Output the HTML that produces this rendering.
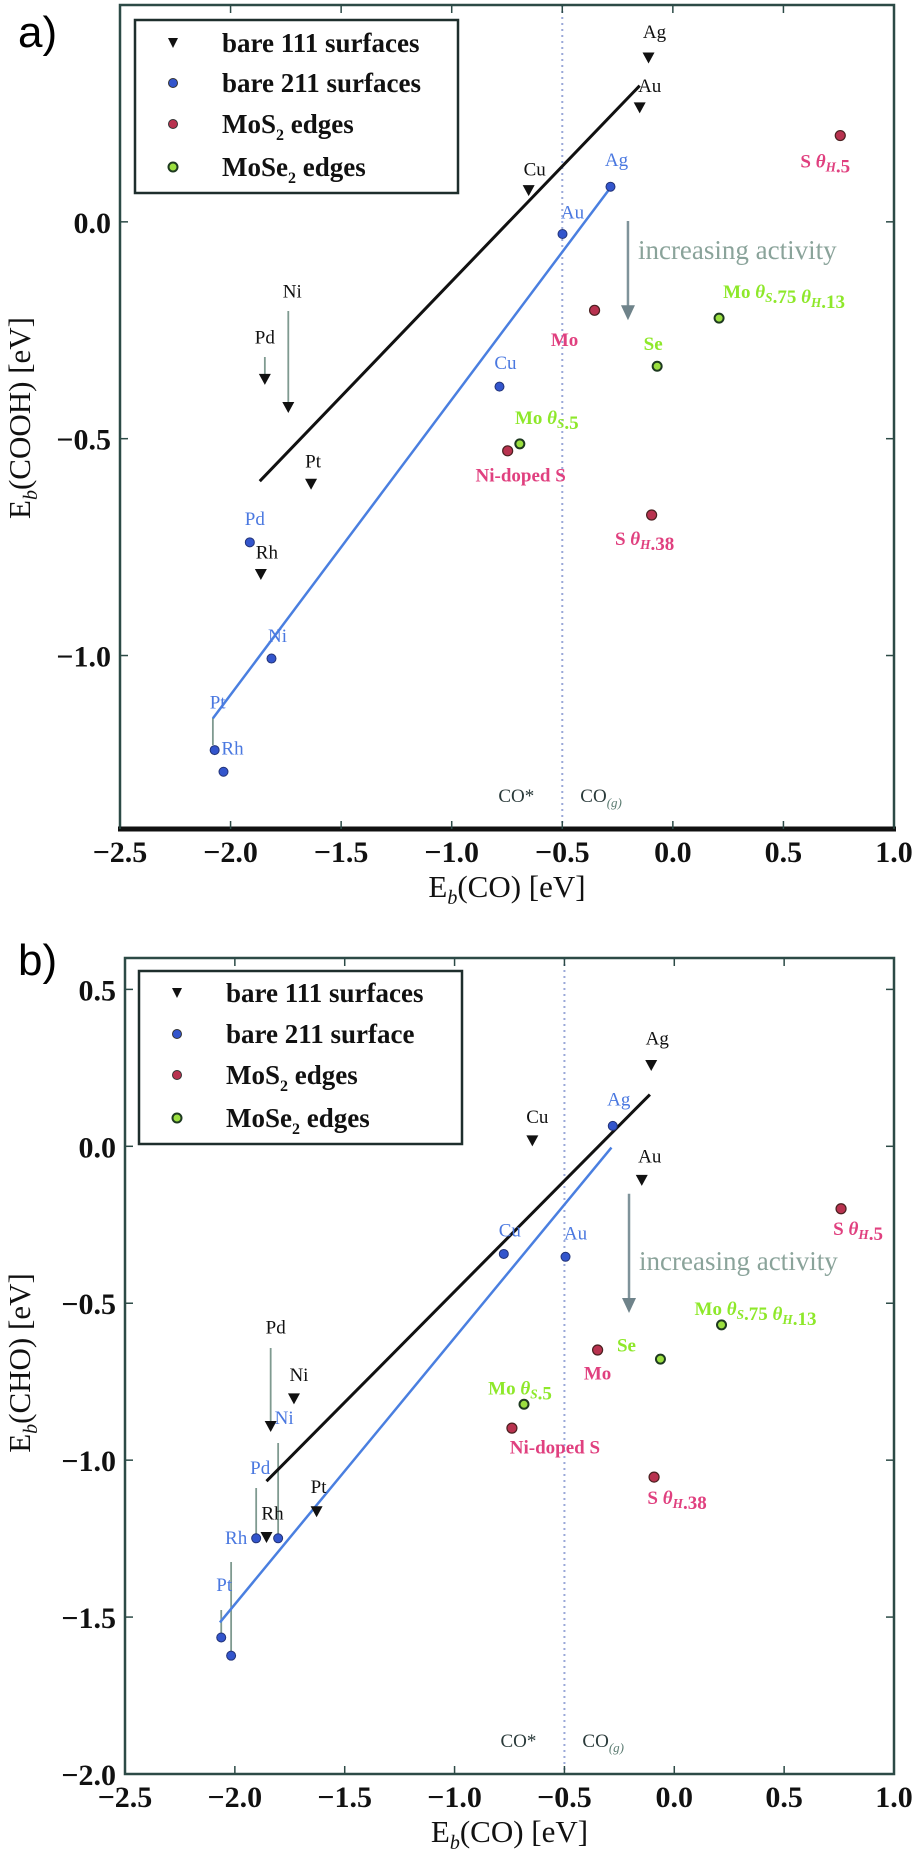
<!DOCTYPE html>
<html><head><meta charset="utf-8">
<style>
html,body{margin:0;padding:0;background:#fff;}
svg{display:block;}
text{font-family:"Liberation Serif",serif;}
</style></head>
<body>
<svg id="fig" width="916" height="1850" viewBox="0 0 916 1850" xmlns="http://www.w3.org/2000/svg">
<text x="18" y="47" font-size="44" style="font-family:'Liberation Sans',sans-serif">a)</text>
<text x="18" y="975" font-size="44" style="font-family:'Liberation Sans',sans-serif">b)</text>
<g id="pa"></g>
<g id="pb"></g>
</svg>
<script>
// ---- Panel a data (E_b(COOH) vs E_b(CO)) ----
const xTicks = [-2.5,-2.0,-1.5,-1.0,-0.5,0.0,0.5,1.0];
const xTickLabels = ["\u22122.5","\u22122.0","\u22121.5","\u22121.0","\u22120.5","0.0","0.5","1.0"];
const aYTicks = [0.0,-0.5,-1.0];
const aYTickLabels = ["0.0","\u22120.5","\u22121.0"];
const a111Names = ["Ag","Au","Cu","Ni","Pd","Pt","Rh"];
const a111X = [-0.110,-0.150,-0.652,-1.739,-1.845,-1.636,-1.863];
const a111Y = [0.379,0.264,0.073,-0.427,-0.362,-0.604,-0.812];
const a211Names = ["Ag","Au","Cu","Pd","Ni","Pt","Rh"];
const a211X = [-0.282,-0.499,-0.784,-1.913,-1.815,-2.072,-2.032];
const a211Y = [0.081,-0.028,-0.380,-0.739,-1.007,-1.218,-1.268];
const aMoS2Names = ["S \u03b8H.5","Mo","Ni-doped S","S \u03b8H.38"];
const aMoS2X = [0.757,-0.354,-0.747,-0.096];
const aMoS2Y = [0.199,-0.204,-0.528,-0.676];
const aMoSe2Names = ["Mo \u03b8S.75 \u03b8H.13","Se","Mo \u03b8S.5"];
const aMoSe2X = [0.209,-0.071,-0.692];
const aMoSe2Y = [-0.222,-0.333,-0.512];
const aFit111X = [-1.868,-0.150];
const aFit111Y = [-0.598,0.314];
const aFit211X = [-2.080,-0.282];
const aFit211Y = [-1.145,0.079];
const aActivityX = -0.203;
const aActivityY = [0.002,-0.227];

// ---- Panel b data (E_b(CHO) vs E_b(CO)) ----
const bYTicks = [0.5,0.0,-0.5,-1.0,-1.5,-2.0];
const bYTickLabels = ["0.5","0.0","\u22120.5","\u22121.0","\u22121.5","\u22122.0"];
const b111Names = ["Ag","Cu","Au","Ni","Pd","Pt","Rh"];
const b111X = [-0.105,-0.646,-0.148,-1.731,-1.837,-1.628,-1.856];
const b111Y = [0.259,0.019,-0.107,-0.803,-0.891,-1.163,-1.245];
const b211Names = ["Ag","Cu","Au","Ni","Pd","Pt","Rh"];
const b211X = [-0.280,-0.776,-0.495,-1.803,-1.903,-2.062,-2.017];
const b211Y = [0.065,-0.343,-0.352,-1.249,-1.249,-1.565,-1.623];
const bMoS2Names = ["S \u03b8H.5","Mo","Ni-doped S","S \u03b8H.38"];
const bMoS2X = [0.759,-0.349,-0.739,-0.092];
const bMoS2Y = [-0.199,-0.649,-0.898,-1.054];
const bMoSe2Names = ["Mo \u03b8S.75 \u03b8H.13","Se","Mo \u03b8S.5"];
const bMoSe2X = [0.215,-0.063,-0.684];
const bMoSe2Y = [-0.569,-0.678,-0.822];
const bFit111X = [-1.856,-0.111];
const bFit111Y = [-1.067,0.165];
const bFit211X = [-2.068,-0.286];
const bFit211Y = [-1.517,-0.004];
const bActivityX = -0.206;
const bActivityY = [-0.151,-0.531];

const NS="http://www.w3.org/2000/svg";
function mk(parent,tag,attrs){const e=document.createElementNS(NS,tag);for(const k in attrs)e.setAttribute(k,attrs[k]);parent.appendChild(e);return e;}

const offA = {
 t111:[[6,-25],[10,-21],[6,-20],[4,-115],[0,-41],[2,-22],[6,-21]],
 t211:[[6,-26],[10,-21],[6,-23],[5,-23],[6,-22],[3,-47],[9,-23]],
 mos2:[[-15,26],[-30,30],[13,25],[-7,24]],
 mose2:[[65,-26],[-4,-22],[27,-26]]
};
const offB = {
 t111:[[6,-26],[5,-23],[8,-23],[5,-23],[5,-98],[2,-24],[6,-23]],
 t211:[[6,-26],[6,-23],[10,-23],[6,-120],[4,-70],[3,-52],[5,-117]],
 mos2:[[17,20],[0,24],[43,20],[23,21]],
 mose2:[[34,-16],[-34,-13],[-4,-16]]
};

function addLabel(g,x,y,name,color,size){
  const t=mk(g,'text',{x:x,y:y,'text-anchor':'middle','dominant-baseline':'central',fill:color,'font-size':size});
  
  
  if(!/\u03b8[SH]/.test(name)){t.textContent=name;return t;}
  const parts=name.split(/(\u03b8[SH])/);
  parts.forEach(p=>{
    if(/^\u03b8[SH]$/.test(p)){
      const a=mk(t,'tspan',{'font-style':'italic'});a.textContent='\u03b8';
      const s=mk(t,'tspan',{'font-size':size*0.7,'font-style':'italic',dy:5});s.textContent=p[1];
      const r=mk(t,'tspan',{dy:-5});r.textContent='';
    } else if(p){const s=mk(t,'tspan',{});s.textContent=p;}
  });
  return t;
}

function drawPanel(g,P){
  const X=v=>P.x0+(v-P.xmin)/(P.xmax-P.xmin)*(P.x1-P.x0);
  const Y=v=>P.y0+(P.ymax-v)/(P.ymax-P.ymin)*(P.y1-P.y0);
  const dl=mk(g,'line',{x1:X(-0.5),x2:X(-0.5),y1:P.y0,y2:P.y1,stroke:'#9aa8d8','stroke-width':2,'stroke-dasharray':'2,4'});
  
  
  const c1=mk(g,'text',{x:X(-0.5)-46,y:P.y1-27,'text-anchor':'middle','font-size':19,fill:'#2a3a3a'});c1.textContent='CO*';
  
  
  const c2=mk(g,'text',{x:X(-0.5)+18,y:P.y1-27,'font-size':19,fill:'#2a3a3a'});
  
  
  c2.textContent='CO';const cs=mk(c2,'tspan',{'font-size':13,dy:5,'font-style':'italic',fill:'#5a7a70'});cs.textContent='(g)';
  P.helpers.forEach(h=>{
    const l=mk(g,'line',{x1:X(h[0]),x2:X(h[0]),y1:h[1],y2:h[2],stroke:'#7f9a90','stroke-width':1.8});
    
    
  });
  const f1=mk(g,'line',{x1:X(P.f111x[0]),y1:Y(P.f111y[0]),x2:X(P.f111x[1]),y2:Y(P.f111y[1]),stroke:'#111','stroke-width':3});
  
  
  const f2=mk(g,'line',{x1:X(P.f211x[0]),y1:Y(P.f211y[0]),x2:X(P.f211x[1]),y2:Y(P.f211y[1]),stroke:'#4a7fe0','stroke-width':2.5});
  
  
  const ax=X(P.actX),ya=Y(P.actY[0]),yb=Y(P.actY[1]);
  const al=mk(g,'line',{x1:ax,x2:ax,y1:ya,y2:yb-14,stroke:'#7f939a','stroke-width':2.5});
  
  
  const ah=mk(g,'polygon',{points:`${ax-7},${yb-15} ${ax+7},${yb-15} ${ax},${yb}`,fill:'#6f838a'});
  
  
  const at=mk(g,'text',{x:ax+10,y:P.actTextY,'font-size':27,fill:'#8aa39a','dominant-baseline':'central'});
  at.textContent='increasing activity';
  
  
  P.s111x.forEach((v,i)=>{
    const x=X(v),y=Y(P.s111y[i]);
    const m=mk(g,'polygon',{points:`${x-6},${y-5} ${x+6},${y-5} ${x},${y+6}`,fill:'#111'});
    
    
    addLabel(g,x+P.off.t111[i][0],y+P.off.t111[i][1],P.n111[i],'#111',19);
  });
  P.s211x.forEach((v,i)=>{
    const x=X(v),y=Y(P.s211y[i]);
    const m=mk(g,'circle',{cx:x,cy:y,r:4.5,fill:'#3355cc',stroke:'#223377','stroke-width':1});
    
    
    addLabel(g,x+P.off.t211[i][0],y+P.off.t211[i][1],P.n211[i],'#4a78e0',19);
  });
  P.mos2x.forEach((v,i)=>{
    const x=X(v),y=Y(P.mos2y[i]);
    const m=mk(g,'circle',{cx:x,cy:y,r:5,fill:'#b8324f',stroke:'#4a2020','stroke-width':1.2});
    
    
    addLabel(g,x+P.off.mos2[i][0],y+P.off.mos2[i][1],P.nmos2[i],'#e0407f',19).setAttribute('font-weight','bold');
  });
  P.mose2x.forEach((v,i)=>{
    const x=X(v),y=Y(P.mose2y[i]);
    const m=mk(g,'circle',{cx:x,cy:y,r:4.5,fill:'#9be040',stroke:'#1e3a20','stroke-width':2});
    
    
    addLabel(g,x+P.off.mose2[i][0],y+P.off.mose2[i][1],P.nmose2[i],'#8ee82a',19).setAttribute('font-weight','bold');
  });
  const fr=mk(g,'rect',{x:P.x0,y:P.y0,width:P.x1-P.x0,height:P.y1-P.y0,fill:'none',stroke:'#2c4a46','stroke-width':2.5});
  
  
  if(P.thickBottom){
    const bb=mk(g,'line',{x1:P.x0-2,x2:P.x1+2,y1:P.y1,y2:P.y1,stroke:'#111','stroke-width':5});
    
    
  }
  xTicks.forEach((v,i)=>{
    const x=X(v);
    mk(g,'line',{x1:x,x2:x,y1:P.y1,y2:P.y1-8,stroke:'#2c4a46','stroke-width':1.5});
    mk(g,'line',{x1:x,x2:x,y1:P.y0,y2:P.y0+8,stroke:'#2c4a46','stroke-width':1.5});
    const t=mk(g,'text',{x:x,y:P.y1+33,'text-anchor':'middle','font-size':30,'font-weight':'bold',fill:'#111'});
    t.textContent=xTickLabels[i];
    
    
  });
  P.yt.forEach((v,i)=>{
    const y=Y(v);
    mk(g,'line',{x1:P.x0,x2:P.x0+8,y1:y,y2:y,stroke:'#2c4a46','stroke-width':1.5});
    mk(g,'line',{x1:P.x1,x2:P.x1-8,y1:y,y2:y,stroke:'#2c4a46','stroke-width':1.5});
    const t=mk(g,'text',{x:P.x0-9,y:y+11,'text-anchor':'end','font-size':30,'font-weight':'bold',fill:'#111'});
    t.textContent=P.ytl[i];
    
    
  });
  const xt=mk(g,'text',{x:(P.x0+P.x1)/2,y:P.y1+68,'text-anchor':'middle','font-size':31,fill:'#111'});
  
  
  mk(xt,'tspan',{}).textContent='E';
  mk(xt,'tspan',{'font-size':20,'font-style':'italic',dy:7}).textContent='b';
  mk(xt,'tspan',{dy:-7}).textContent='(CO) [eV]';
  const yt=mk(g,'text',{x:0,y:0,'text-anchor':'middle','font-size':31,fill:'#111',transform:`translate(${P.ylabX},${P.ylabY}) rotate(-90)`});
  
  
  mk(yt,'tspan',{}).textContent='E';
  mk(yt,'tspan',{'font-size':20,'font-style':'italic',dy:7}).textContent='b';
  mk(yt,'tspan',{dy:-7}).textContent=P.ylab;
  const lg=mk(g,'g',{});
  
  
  mk(lg,'rect',{x:P.lx,y:P.ly,width:323,height:P.lh,fill:'#fff',stroke:'#1e2e2c','stroke-width':2.5});
  const items=[['bare 111 surfaces','tri'],[P.leg211,'#3355cc'],['MoS','#b8324f'],['MoSe','#9be040']];
  items.forEach((it,i)=>{
    const ry=P.ly+P.rows[i];
    const mx=P.lx+38;
    let mm;
    if(it[1]==='tri') mm=mk(lg,'polygon',{points:`${mx-5},${ry-5} ${mx+5},${ry-5} ${mx},${ry+5}`,fill:'#111'});
    else mm=mk(lg,'circle',{cx:mx,cy:ry,r:4.5,fill:it[1],stroke:i===3?'#1e3a20':'#333','stroke-width':i===3?2:1});
    
    
    const t=mk(lg,'text',{x:P.lx+87,y:ry+9,'font-size':27,'font-weight':'bold',fill:'#111'});
    
    
    if(i<2){t.textContent=it[0];}
    else{mk(t,'tspan',{}).textContent=it[0];mk(t,'tspan',{'font-size':16,dy:7}).textContent='2';mk(t,'tspan',{dy:-7}).textContent=' edges';}
  });
}

drawPanel(document.getElementById('pa'),{
  x0:120,x1:894,y0:5,y1:829,xmin:-2.5,xmax:1.0,ymin:-1.4,ymax:0.5,
  yt:aYTicks,ytl:aYTickLabels,
  s111x:a111X,s111y:a111Y,n111:a111Names,s211x:a211X,s211y:a211Y,n211:a211Names,
  mos2x:aMoS2X,mos2y:aMoS2Y,nmos2:aMoS2Names,mose2x:aMoSe2X,mose2y:aMoSe2Y,nmose2:aMoSe2Names,
  f111x:aFit111X,f111y:aFit111Y,f211x:aFit211X,f211y:aFit211Y,
  actX:aActivityX,actY:aActivityY,actTextY:250,
  off:offA,thickBottom:true,
  helpers:[[-1.845,357,380],[-1.739,311,405],[-2.080,718,745]],
  ylab:'(COOH) [eV]',ylabX:30,ylabY:418,
  lx:135,ly:20,lh:173,rows:[23,63,104,147],leg211:'bare 211 surfaces'
});
drawPanel(document.getElementById('pb'),{
  x0:125,x1:894,y0:958,y1:1774,xmin:-2.5,xmax:1.0,ymin:-2.0,ymax:0.6,
  yt:bYTicks,ytl:bYTickLabels,
  s111x:b111X,s111y:b111Y,n111:b111Names,s211x:b211X,s211y:b211Y,n211:b211Names,
  mos2x:bMoS2X,mos2y:bMoS2Y,nmos2:bMoS2Names,mose2x:bMoSe2X,mose2y:bMoSe2Y,nmose2:bMoSe2Names,
  f111x:bFit111X,f111y:bFit111Y,f211x:bFit211X,f211y:bFit211Y,
  actX:bActivityX,actY:bActivityY,actTextY:1261,
  off:offB,thickBottom:false,
  helpers:[[-1.837,1348,1425],[-1.803,1443,1540],[-1.903,1488,1540],[-2.062,1610,1640],[-2.017,1562,1660]],
  ylab:'(CHO) [eV]',ylabX:30,ylabY:1363,
  lx:139,ly:971,lh:173,rows:[22,63,104,147],leg211:'bare 211 surface'
});
</script>
</body></html>
